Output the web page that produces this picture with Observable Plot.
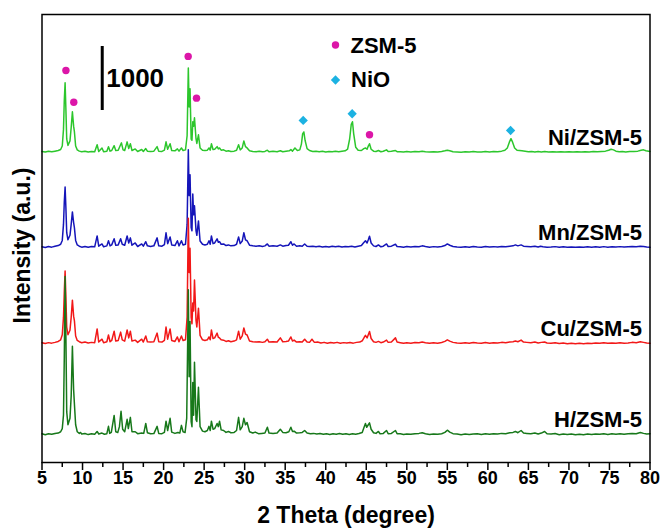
<!DOCTYPE html>
<html>
<head>
<meta charset="utf-8">
<script src="https://cdn.jsdelivr.net/npm/d3@7"></script>
<script src="https://cdn.jsdelivr.net/npm/@observablehq/plot@0.6"></script>
<style>
  html, body { margin: 0; padding: 0; background: #fff; }
  #chart svg { display: block; }
</style>
</head>
<body>
<div id="chart"></div>
<script>
// XRD patterns of the ZSM-5 catalysts, [2θ (degree), counts above background]
const hPattern = [
[5.0,10],[5.4,-5],[5.8,8],[6.2,0],[6.6,12],[7.0,20],[7.3,40],[7.5,90],[7.65,300],[7.75,1200],[7.85,2465],[7.95,1500],[8.05,350],[8.2,150],[8.45,250],[8.6,600],[8.75,1375],[8.9,700],[9.0,470],[9.15,150],[9.35,40],[9.6,15],[9.75,30],[9.9,5],[10.3,12],[10.7,-4],[11.1,8],[11.5,0],[11.8,45],[12.0,5],[12.4,20],[12.7,2],[13.0,10],[13.2,125],[13.35,15],[13.55,30],[13.9,295],[14.1,40],[14.35,30],[14.55,120],[14.75,360],[14.95,80],[15.2,40],[15.5,235],[15.65,90],[15.9,265],[16.1,40],[16.5,40],[16.8,10],[17.3,20],[17.55,15],[17.8,170],[18.0,25],[18.4,10],[18.8,12],[19.2,125],[19.4,15],[19.8,10],[20.1,30],[20.3,205],[20.5,60],[20.8,250],[21.0,35],[21.4,15],[21.75,30],[22.0,20],[22.2,140],[22.4,40],[22.65,30],[22.85,250],[23.05,2260],[23.15,900],[23.26,1765],[23.4,200],[23.5,120],[23.6,810],[23.7,300],[23.81,1125],[24.0,230],[24.1,200],[24.3,735],[24.5,120],[24.8,50],[25.1,40],[25.4,60],[25.6,125],[25.75,60],[25.9,205],[26.1,80],[26.3,90],[26.6,170],[26.75,120],[26.9,205],[27.1,70],[27.4,60],[27.7,30],[28.0,45],[28.3,25],[28.7,30],[29.0,60],[29.25,265],[29.45,70],[29.7,120],[29.9,250],[30.1,150],[30.3,185],[30.6,40],[31.0,20],[31.3,35],[31.7,10],[32.1,15],[32.5,20],[32.8,110],[33.0,20],[33.5,15],[34.0,20],[34.4,80],[34.7,30],[35.1,25],[35.45,40],[35.7,110],[35.9,45],[36.1,50],[36.4,20],[36.8,25],[37.1,30],[37.4,60],[37.7,20],[38.1,10],[38.5,15],[38.9,5],[39.3,12],[39.7,0],[40.1,10],[40.5,-3],[40.9,8],[41.3,2],[41.7,12],[42.1,0],[42.5,8],[42.9,-2],[43.3,10],[43.7,3],[44.1,12],[44.5,30],[44.75,120],[44.9,170],[45.05,110],[45.25,150],[45.4,180],[45.6,80],[45.9,25],[46.2,15],[46.5,45],[46.7,10],[47.1,15],[47.5,60],[47.7,10],[48.1,15],[48.6,60],[48.8,10],[49.2,8],[49.6,-2],[50.0,6],[50.5,0],[51.0,10],[51.5,15],[51.9,25],[52.3,8],[52.8,-3],[53.3,5],[53.8,0],[54.3,10],[54.7,30],[55.0,65],[55.3,35],[55.7,10],[56.2,5],[56.7,-5],[57.2,4],[57.7,-3],[58.2,5],[58.7,10],[59.2,-2],[59.7,8],[60.2,0],[60.7,10],[61.2,5],[61.7,15],[62.2,10],[62.7,25],[63.1,30],[63.4,45],[63.7,25],[64.1,60],[64.4,20],[64.8,15],[65.3,10],[65.8,20],[66.2,5],[66.6,20],[67.0,45],[67.3,10],[67.8,5],[68.3,12],[68.8,-5],[69.3,5],[69.8,-3],[70.3,6],[70.8,-8],[71.3,0],[71.8,-6],[72.3,4],[72.8,-4],[73.3,6],[73.8,0],[74.3,10],[74.8,-2],[75.3,8],[75.8,3],[76.3,10],[76.8,0],[77.3,8],[77.8,15],[78.3,10],[78.8,30],[79.2,15],[79.6,5],[80.0,10]
];

const cuPattern = [
[5.0,5],[5.4,-8],[5.8,6],[6.2,-2],[6.6,10],[7.0,25],[7.3,50],[7.5,130],[7.65,400],[7.75,800],[7.85,1125],[7.95,700],[8.05,250],[8.2,130],[8.45,200],[8.6,400],[8.75,670],[8.9,420],[9.0,345],[9.15,110],[9.35,40],[9.6,20],[9.9,5],[10.3,15],[10.7,0],[11.1,10],[11.5,5],[11.8,220],[12.0,15],[12.4,60],[12.6,5],[13.0,20],[13.2,125],[13.4,20],[13.6,40],[13.9,185],[14.1,30],[14.4,40],[14.7,170],[14.9,50],[15.2,30],[15.5,205],[15.7,80],[15.9,185],[16.1,30],[16.5,45],[16.8,10],[17.3,60],[17.5,15],[17.8,110],[18.0,20],[18.4,15],[18.8,20],[19.2,155],[19.4,20],[19.8,15],[20.1,40],[20.3,250],[20.5,60],[20.8,220],[21.0,40],[21.4,25],[21.7,95],[21.9,20],[22.2,110],[22.4,40],[22.7,50],[22.9,400],[23.05,1950],[23.15,1100],[23.26,1480],[23.4,400],[23.5,300],[23.6,625],[23.7,500],[23.81,985],[24.0,350],[24.1,250],[24.3,545],[24.5,120],[24.8,50],[25.1,40],[25.4,50],[25.6,95],[25.75,50],[25.9,205],[26.1,70],[26.3,80],[26.6,155],[26.75,90],[26.9,80],[27.1,50],[27.4,45],[27.7,25],[28.0,35],[28.3,20],[28.7,30],[29.0,50],[29.25,185],[29.45,60],[29.7,110],[29.9,235],[30.1,140],[30.3,125],[30.6,30],[31.0,20],[31.4,15],[31.8,20],[32.2,10],[32.5,20],[32.8,60],[33.0,15],[33.5,20],[34.0,15],[34.4,80],[34.7,20],[35.1,25],[35.4,30],[35.7,95],[35.9,30],[36.1,45],[36.4,15],[36.8,20],[37.1,15],[37.4,60],[37.7,15],[38.0,10],[38.3,60],[38.6,10],[39.0,15],[39.4,0],[39.8,10],[40.2,-5],[40.6,8],[41.0,0],[41.4,10],[41.8,-3],[42.2,6],[42.6,0],[43.0,8],[43.4,-2],[43.8,10],[44.2,15],[44.5,35],[44.75,90],[44.9,120],[45.1,80],[45.25,130],[45.4,180],[45.6,70],[45.9,20],[46.2,10],[46.5,25],[46.8,5],[47.1,15],[47.5,45],[47.7,10],[48.1,15],[48.6,80],[48.8,15],[49.2,5],[49.6,-5],[50.0,5],[50.5,-2],[51.0,8],[51.5,5],[51.9,15],[52.3,5],[52.8,-5],[53.3,3],[53.8,-2],[54.3,8],[54.7,25],[55.0,50],[55.3,30],[55.7,10],[56.2,0],[56.7,-5],[57.2,5],[57.7,-2],[58.2,8],[58.7,0],[59.2,-5],[59.7,8],[60.2,-3],[60.7,5],[61.2,0],[61.7,10],[62.2,5],[62.7,15],[63.1,20],[63.4,30],[63.7,20],[64.1,45],[64.4,15],[64.8,10],[65.3,5],[65.8,15],[66.2,0],[66.6,10],[67.0,15],[67.3,0],[67.8,-5],[68.3,5],[68.8,-8],[69.3,0],[69.8,-10],[70.3,-3],[70.8,-12],[71.3,-5],[71.8,-10],[72.3,-2],[72.8,-8],[73.3,0],[73.8,-5],[74.3,5],[74.8,-5],[75.3,0],[75.8,-3],[76.3,5],[76.8,-5],[77.3,0],[77.8,10],[78.3,5],[78.8,20],[79.2,10],[79.6,0],[80.0,-5]
];

const mnPattern = [
[5.0,0],[5.4,-10],[5.8,5],[6.2,-5],[6.6,8],[7.0,20],[7.3,40],[7.5,100],[7.65,350],[7.75,700],[7.85,935],[7.95,600],[8.05,220],[8.2,110],[8.45,180],[8.6,350],[8.75,545],[8.9,380],[9.0,295],[9.15,100],[9.35,30],[9.6,10],[9.9,-5],[10.3,5],[10.7,-8],[11.1,5],[11.5,0],[11.8,170],[12.0,10],[12.4,45],[12.6,0],[13.0,15],[13.2,95],[13.4,15],[13.6,30],[13.9,125],[14.1,25],[14.4,30],[14.7,125],[14.9,40],[15.2,25],[15.5,170],[15.7,60],[15.9,140],[16.1,25],[16.5,60],[16.8,5],[17.3,45],[17.5,10],[17.8,80],[18.0,15],[18.4,5],[18.8,15],[19.2,140],[19.4,15],[19.8,10],[20.1,35],[20.3,220],[20.5,50],[20.8,155],[21.0,30],[21.4,20],[21.7,95],[21.9,15],[22.2,95],[22.4,30],[22.7,40],[22.9,350],[23.05,1515],[23.15,800],[23.26,1125],[23.4,300],[23.5,250],[23.6,825],[23.7,500],[23.81,640],[24.0,250],[24.1,180],[24.3,405],[24.5,90],[24.8,40],[25.1,30],[25.4,40],[25.6,95],[25.75,40],[25.9,170],[26.1,50],[26.3,60],[26.6,125],[26.75,70],[26.9,80],[27.1,40],[27.4,45],[27.7,20],[28.0,30],[28.3,15],[28.7,20],[29.0,40],[29.25,155],[29.45,50],[29.7,90],[29.9,220],[30.1,110],[30.3,95],[30.6,25],[31.0,15],[31.4,10],[31.8,15],[32.2,5],[32.5,15],[32.8,45],[33.0,10],[33.5,15],[34.0,10],[34.4,30],[34.7,10],[35.1,20],[35.4,25],[35.7,80],[35.9,25],[36.1,45],[36.4,10],[36.8,15],[37.1,10],[37.4,45],[37.7,10],[38.0,5],[38.4,10],[38.8,0],[39.2,8],[39.6,-3],[40.0,6],[40.4,-2],[40.8,8],[41.2,0],[41.6,10],[42.0,-2],[42.4,5],[42.8,0],[43.2,8],[43.6,-3],[44.0,10],[44.4,20],[44.65,60],[44.9,95],[45.1,60],[45.25,110],[45.4,165],[45.6,60],[45.9,15],[46.2,5],[46.5,30],[46.8,0],[47.1,10],[47.5,45],[47.7,5],[48.1,10],[48.6,40],[48.8,5],[49.2,0],[49.6,-5],[50.0,5],[50.5,-3],[51.0,5],[51.5,0],[51.9,15],[52.3,5],[52.8,-5],[53.3,3],[53.8,-3],[54.3,5],[54.7,20],[55.0,45],[55.3,25],[55.7,5],[56.2,-3],[56.7,-8],[57.2,2],[57.7,-5],[58.2,5],[58.7,-3],[59.2,-6],[59.7,5],[60.2,-2],[60.7,3],[61.2,-3],[61.7,5],[62.2,0],[62.7,10],[63.1,15],[63.4,30],[63.7,15],[64.1,30],[64.4,10],[64.8,5],[65.3,0],[65.8,8],[66.2,-3],[66.5,10],[66.8,0],[67.3,-5],[67.8,-3],[68.3,3],[68.8,-5],[69.3,0],[69.8,-6],[70.3,-2],[70.8,-8],[71.3,-3],[71.8,-6],[72.3,0],[72.8,-5],[73.3,2],[73.8,-5],[74.3,3],[74.8,-5],[75.3,0],[75.8,-3],[76.3,3],[76.8,-4],[77.3,0],[77.8,5],[78.3,0],[78.8,10],[79.2,5],[79.6,-3],[80.0,-8]
];

const niPattern = [
[5.0,5],[5.4,-5],[5.8,8],[6.2,0],[6.6,10],[7.0,20],[7.3,35],[7.5,90],[7.65,350],[7.75,800],[7.85,1080],[7.95,650],[8.05,200],[8.2,100],[8.45,170],[8.6,380],[8.75,625],[8.9,400],[9.0,310],[9.15,90],[9.35,30],[9.6,10],[9.9,0],[10.3,8],[10.7,-5],[11.1,5],[11.5,0],[11.8,110],[12.0,5],[12.4,60],[12.6,0],[13.0,10],[13.2,80],[13.4,10],[13.6,20],[13.9,95],[14.1,20],[14.4,25],[14.8,140],[15.0,30],[15.2,20],[15.5,155],[15.7,50],[15.9,125],[16.1,20],[16.5,45],[16.8,5],[17.3,35],[17.5,5],[17.8,50],[18.0,10],[18.4,5],[18.8,10],[19.2,80],[19.4,10],[19.8,5],[20.1,25],[20.3,155],[20.5,40],[20.8,125],[21.0,20],[21.4,15],[21.7,45],[21.9,10],[22.2,60],[22.4,20],[22.7,30],[22.9,250],[23.05,1310],[23.15,700],[23.26,985],[23.4,200],[23.5,180],[23.6,470],[23.7,400],[23.81,530],[24.0,200],[24.1,130],[24.3,265],[24.5,60],[24.8,25],[25.1,20],[25.4,25],[25.6,60],[25.75,25],[25.9,125],[26.1,35],[26.3,40],[26.6,80],[26.75,45],[26.9,60],[27.1,25],[27.4,30],[27.7,10],[28.0,15],[28.3,5],[28.7,10],[29.0,25],[29.25,110],[29.45,30],[29.7,60],[29.9,170],[30.1,80],[30.3,60],[30.6,15],[31.0,5],[31.4,0],[31.8,8],[32.2,0],[32.5,5],[32.8,25],[33.0,0],[33.5,8],[34.0,2],[34.4,15],[34.7,0],[35.1,8],[35.5,15],[35.7,35],[35.9,10],[36.2,60],[36.5,20],[36.8,30],[37.0,120],[37.15,280],[37.3,310],[37.45,180],[37.7,50],[38.0,20],[38.4,5],[38.8,10],[39.2,0],[39.6,8],[40.0,-2],[40.4,5],[40.8,0],[41.2,8],[41.6,2],[42.0,10],[42.4,15],[42.7,40],[42.95,200],[43.15,430],[43.3,470],[43.45,280],[43.7,70],[44.0,25],[44.4,20],[44.7,50],[44.9,60],[45.1,40],[45.25,90],[45.4,125],[45.6,40],[45.9,10],[46.2,5],[46.5,20],[46.8,0],[47.1,8],[47.5,30],[47.7,5],[48.1,8],[48.6,20],[48.8,2],[49.2,0],[49.6,-5],[50.0,3],[50.5,-3],[51.0,5],[51.5,0],[51.9,10],[52.3,0],[52.8,-5],[53.3,2],[53.8,-3],[54.3,5],[54.7,15],[55.0,25],[55.3,15],[55.7,0],[56.2,-3],[56.7,-6],[57.2,2],[57.7,-4],[58.2,3],[58.7,-2],[59.2,-5],[59.7,3],[60.2,-2],[60.7,5],[61.2,0],[61.7,10],[62.1,25],[62.4,60],[62.65,150],[62.85,205],[63.05,150],[63.3,60],[63.6,25],[63.9,20],[64.2,15],[64.6,8],[65.0,0],[65.4,5],[65.8,-3],[66.2,5],[66.6,-2],[67.0,3],[67.5,-4],[68.0,2],[68.5,-5],[69.0,0],[69.5,-5],[70.0,2],[70.5,-4],[71.0,0],[71.5,-5],[72.0,2],[72.5,-3],[73.0,3],[73.5,0],[74.0,5],[74.5,10],[74.9,25],[75.2,40],[75.5,30],[75.8,10],[76.2,0],[76.6,5],[77.0,-2],[77.5,3],[78.0,5],[78.5,10],[78.9,25],[79.2,30],[79.5,15],[80.0,5]
];

// Samples, bottom to top, with the vertical shift that stacks each pattern
const samples = ["H/ZSM-5", "Cu/ZSM-5", "Mn/ZSM-5", "Ni/ZSM-5"];
const patterns = [hPattern, cuPattern, mnPattern, niPattern];
const stackOffsets = [440, 1867, 3370, 4855];
const sampleColors = ["#17781a", "#f21818", "#1515b9", "#2cc62c"];

// Reflections marked on the Ni/ZSM-5 pattern: [2θ, counts above its background]
const zsm5Peaks = [[7.95, 1270], [8.92, 775], [23.03, 1490], [24.06, 838], [45.4, 266]];
const nioPeaks = [[37.22, 490], [43.26, 594], [62.8, 333]];

// Intensity scale bar (counts)
const scaleBar = {theta: 12.43, from: 5500, size: 1000};

const majorTicks = [5, 10, 15, 20, 25, 30, 35, 40, 45, 50, 55, 60, 65, 70, 75, 80];
const minorTicks = [7.5, 12.5, 17.5, 22.5, 27.5, 32.5, 37.5, 42.5, 47.5, 52.5, 57.5, 62.5, 67.5, 72.5, 77.5];

const zsmColor = "#dc16a8";
const nioColor = "#1cb2e2";
const font = "'Liberation Sans', Arial, sans-serif";

const niOffset = stackOffsets[samples.indexOf("Ni/ZSM-5")];

// One line mark per sample, top pattern first so lower traces sit above it
const traceMarks = samples.map((name, i) => i).reverse().map(i =>
  Plot.line(patterns[i], {
    x: d => d[0],
    y: d => d[1] + stackOffsets[i],
    stroke: sampleColors[i],
    strokeWidth: 1.5,
    strokeLinejoin: "round"
  })
);

const chart = Plot.plot({
  width: 666,
  height: 528,
  marginLeft: 41.5,
  marginRight: 16.5,
  marginTop: 14,
  marginBottom: 66,
  style: {fontFamily: font, fontWeight: "bold", background: "#fff", color: "#000"},
  x: {domain: [5, 80]},
  y: {domain: [0, 7000], axis: null},
  marks: [
    ...traceMarks,
    Plot.dot(zsm5Peaks, {x: d => d[0], y: d => d[1] + niOffset, r: 3.7, fill: zsmColor}),
    Plot.dot(nioPeaks, {x: d => d[0], y: d => d[1] + niOffset, r: 4.2, symbol: "diamond2", fill: nioColor, stroke: "none"}),
    // sample names at the right end of each trace
    Plot.text(samples, {
      y: (d, i) => stackOffsets[i],
      frameAnchor: "right",
      textAnchor: "end",
      lineAnchor: "middle",
      dx: -8,
      dy: -14,
      text: d => d,
      fontSize: 22,
      fontWeight: "bold",
      fill: "#000"
    }),
    // scale bar
    Plot.ruleX([scaleBar], {x: "theta", y1: d => d.from, y2: d => d.from + d.size, stroke: "#000", strokeWidth: 3}),
    Plot.text([scaleBar], {
      x: "theta",
      y: d => d.from + d.size / 2,
      text: d => String(d.size),
      textAnchor: "start",
      lineAnchor: "middle",
      dx: 4,
      fontSize: 26,
      fontWeight: "bold",
      fill: "#000"
    }),
    // legend
    Plot.dot([0], {frameAnchor: "top-left", dx: 293.5, dy: 30.5, r: 3.7, fill: zsmColor}),
    Plot.dot([0], {frameAnchor: "top-left", dx: 293.5, dy: 65.5, r: 4.2, symbol: "diamond2", fill: nioColor, stroke: "none"}),
    Plot.text(["ZSM-5"], {frameAnchor: "top-left", dx: 308.5, dy: 31, text: d => d, textAnchor: "start", lineAnchor: "middle", fontSize: 22, fontWeight: "bold", fill: "#000"}),
    Plot.text(["NiO"], {frameAnchor: "top-left", dx: 309, dy: 65.5, text: d => d, textAnchor: "start", lineAnchor: "middle", fontSize: 22, fontWeight: "bold", fill: "#000"}),
    // axes
    Plot.axisX(majorTicks, {tickSize: 8, tickPadding: 1, strokeWidth: 1.5, fontSize: 18, fontWeight: "bold", label: null}),
    Plot.axisX(minorTicks, {tickSize: 5, strokeWidth: 1.5, text: null, label: null}),
    Plot.text(["2 Theta (degree)"], {frameAnchor: "bottom", dy: 53, text: d => d, textAnchor: "middle", lineAnchor: "middle", fontSize: 23, fontWeight: "bold", fill: "#000"}),
    Plot.text(["Intensity (a.u.)"], {frameAnchor: "left", dx: -19, dy: 7, rotate: -90, text: d => d, textAnchor: "middle", lineAnchor: "middle", fontSize: 23, fontWeight: "bold", fill: "#000"}),
    Plot.frame({stroke: "#000", strokeWidth: 1.5})
  ]
});

document.getElementById("chart").append(chart);
</script>
</body>
</html>
